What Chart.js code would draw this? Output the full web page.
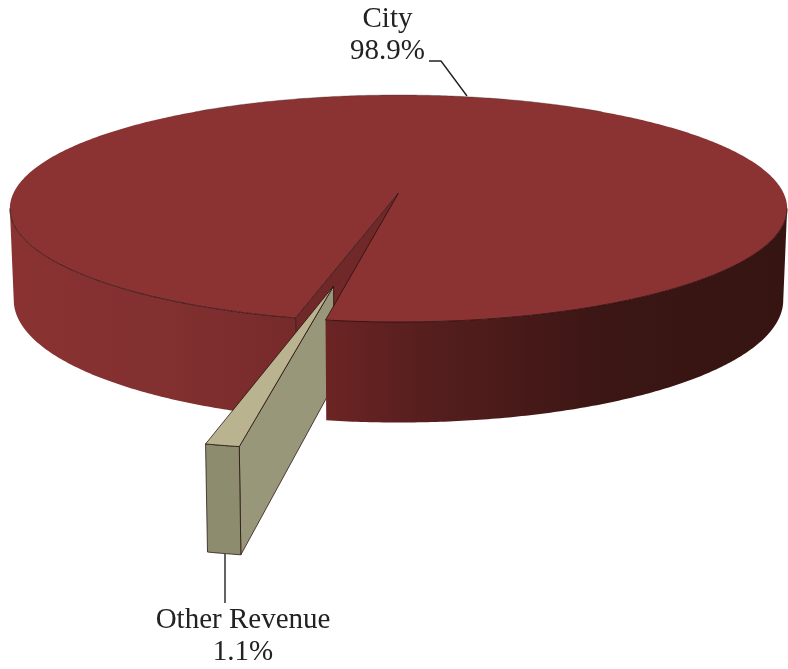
<!DOCTYPE html>
<html>
<head>
<meta charset="utf-8">
<title>Revenue by source</title>
<script src="https://cdn.jsdelivr.net/npm/chart.js@4"></script>
<style>
  html, body { margin: 0; padding: 0; background: #fff; }
  canvas { display: block; filter: blur(0.4px); }
</style>
</head>
<body>
<canvas id="pie" width="788" height="669"></canvas>
<script>
const categories = ['City', 'Other Revenue'];
const shares = [98.9, 1.1];
const explode = [0, 0.765];

// top, wall and front colours per slice
const topColors = ['#8b3333', '#b9b38f'];
const sideColor = '#99977a';
const frontColor = '#8e8c6e';
const cutColor = '#702828';
const edge = 'rgba(35,12,12,0.75)';

// where the labels and their leader lines sit
const labelAt = [[387.5, 27, 59], [243, 628, 660]];
const leaders = [[[429, 61], [441, 61], [467, 96]], [[225, 554], [225, 603]]];

// tilted disc: unit circle -> screen, nearer edge bigger
const X0 = 398.5, Y0 = 193, A = 385, B = 111.4, P = 0.1366, LOW = 0.99;
const DEPTH_BACK = 90, DEPTH_GROW = 10.5;

function proj(u, v, low) {
  const w = 1 - P * v;
  let x = X0 + A * u / w;
  let y = Y0 + B * v / w;
  if (low) {
    x = X0 + (x - X0) * LOW;
    y += DEPTH_BACK + DEPTH_GROW * v;
  }
  return [x, y];
}

function rimPts(a0, a1, ox, oy, low) {
  const pts = [];
  const n = Math.max(2, Math.ceil(Math.abs(a1 - a0) / 0.01));
  for (let i = 0; i <= n; i++) {
    const a = a0 + (a1 - a0) * i / n;
    pts.push(proj(ox + Math.cos(a), oy + Math.sin(a), low));
  }
  return pts;
}

function poly(ctx, pts, fill, stroke) {
  ctx.beginPath();
  pts.forEach((p, i) => (i ? ctx.lineTo(p[0], p[1]) : ctx.moveTo(p[0], p[1])));
  ctx.closePath();
  if (fill) { ctx.fillStyle = fill; ctx.fill(); }
  if (stroke) { ctx.strokeStyle = stroke; ctx.lineWidth = 1; ctx.stroke(); }
}

function line(ctx, pts, color, width) {
  ctx.beginPath();
  pts.forEach((p, i) => (i ? ctx.lineTo(p[0], p[1]) : ctx.moveTo(p[0], p[1])));
  ctx.strokeStyle = color;
  ctx.lineWidth = width;
  ctx.stroke();
}

function wallGradient(ctx, x0, x1, stops) {
  const g = ctx.createLinearGradient(x0, 0, x1, 0);
  stops.forEach(s => g.addColorStop(s[0], s[1]));
  return g;
}

const pie3d = {
  id: 'pie3d',
  beforeDatasetsDraw(chart) {
    const ctx = chart.ctx;
    const arcs = chart.getDatasetMeta(0).data;
    const big = arcs[0], small = arcs[1];
    const tau = Math.PI * 2;

    // City runs from the left cut round the back to the right cut
    const cutL = big.startAngle;
    const cutR = big.endAngle;
    const frontR = cutR - tau;               // right cut on the front of the disc
    const sideR = Math.asin(P);              // silhouette tangents
    const sideL = Math.PI - sideR;

    const ctr = proj(0, 0, false);
    const ctrLow = proj(0, 0, true);

    ctx.save();
    ctx.lineJoin = 'round';

    // left wall
    const wallL = rimPts(cutL, sideL, 0, 0, false).concat(rimPts(sideL, cutL, 0, 0, true));
    poly(ctx, wallL, wallGradient(ctx, 10, 295, [[0, '#8a3232'], [0.55, '#823030'], [1, '#772a2a']]));

    // whole top face
    poly(ctx, [ctr].concat(rimPts(cutL, cutR, 0, 0, false)), topColors[0]);
    line(ctx, rimPts(cutL, sideL, 0, 0, false), edge, 1);
    line(ctx, rimPts(Math.PI * 1.3, Math.PI * 1.7, 0, 0, false), 'rgba(60,40,40,0.35)', 1);

    // inside of the cut
    const rl = rimPts(cutL, cutL, 0, 0, false)[0];
    const rlLow = rimPts(cutL, cutL, 0, 0, true)[0];
    poly(ctx, [ctr, rl, rlLow, ctrLow], cutColor);
    line(ctx, [ctr, rl, rlLow], edge, 1);

    // pulled-out slice
    const mid = (small.startAngle + small.endAngle) / 2;
    const ox = explode[1] * Math.cos(mid), oy = explode[1] * Math.sin(mid);
    const a0 = small.startAngle, a1 = small.endAngle;
    const tip = proj(ox, oy, false), tipLow = proj(ox, oy, true);
    const rimTop = rimPts(a0, a1, ox, oy, false);
    const rimLow = rimPts(a0, a1, ox, oy, true);
    poly(ctx, [tip, rimTop[0], rimLow[0], tipLow], sideColor, edge);
    poly(ctx, rimTop.concat(rimLow.slice().reverse()), frontColor, edge);
    poly(ctx, [tip].concat(rimTop), topColors[1], edge);

    // right part sits in front of the slice
    const wallR = rimPts(sideR, frontR, 0, 0, false).concat(rimPts(frontR, sideR, 0, 0, true));
    poly(ctx, wallR, wallGradient(ctx, 325, 788, [[0, '#6c2424'], [0.22, '#561e1e'], [0.6, '#3b1614'], [1, '#351412']]));
    poly(ctx, [ctr].concat(rimPts(sideR, frontR, 0, 0, false)), topColors[0]);
    line(ctx, rimPts(sideR, frontR, 0, 0, false), edge, 1);
    line(ctx, [ctr, proj(Math.cos(frontR), Math.sin(frontR), false)], edge, 1);

    // leaders and labels
    leaders.forEach(l => line(ctx, l, '#222', 1.4));
    ctx.fillStyle = '#222';
    ctx.font = '29px "Liberation Serif", serif';
    ctx.textAlign = 'center';
    ctx.textBaseline = 'alphabetic';
    categories.forEach((name, i) => {
      const at = labelAt[i];
      ctx.fillText(name, at[0], at[1]);
      ctx.fillText(shares[i].toFixed(1) + '%', at[0], at[2]);
    });
    ctx.restore();
    return false;
  },
};

new Chart(document.getElementById('pie'), {
  type: 'pie',
  data: {
    labels: categories,
    datasets: [{ data: shares, backgroundColor: topColors, borderWidth: 0 }],
  },
  options: {
    responsive: false,
    animation: false,
    events: [],
    rotation: 193.4,
    plugins: { legend: { display: false }, tooltip: { enabled: false } },
  },
  plugins: [pie3d],
});
</script>
</body>
</html>
